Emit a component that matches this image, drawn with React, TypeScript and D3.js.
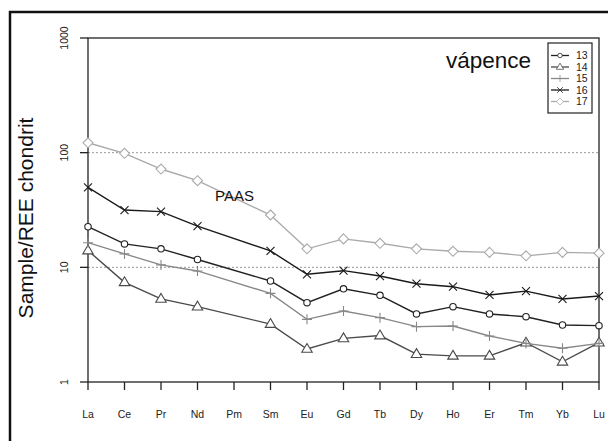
import React from "react";
import * as d3 from "d3";

const elements = ["La", "Ce", "Pr", "Nd", "Pm", "Sm", "Eu", "Gd", "Tb", "Dy", "Ho", "Er", "Tm", "Yb", "Lu"];
// null for Pm (not measured)
const s13 = [22.6, 16, 14.5, 11.7, null, 7.6, 4.92, 6.5, 5.7, 3.92, 4.54, 3.92, 3.71, 3.14, 3.1];
const s14 = [14, 7.4, 5.3, 4.54, null, 3.2, 1.94, 2.4, 2.54, 1.75, 1.69, 1.69, 2.2, 1.5, 2.2];
const s15 = [16.4, 13.1, 10.5, 9.3, null, 5.93, 3.52, 4.16, 3.64, 3.04, 3.08, 2.52, 2.17, 1.97, 2.17];
const s16 = [49.9, 31.6, 30.6, 22.9, null, 13.9, 8.7, 9.35, 8.4, 7.2, 6.78, 5.74, 6.2, 5.3, 5.62];
const s17 = [122, 98.7, 72, 57, null, 28.6, 14.5, 17.7, 16.2, 14.5, 13.8, 13.5, 12.6, 13.5, 13.3];
const seriesNames = ["13", "14", "15", "16", "17"];
const yTicks = [1, 10, 100, 1000];
const gridValues = [10, 100];

const seriesList = [
  { name: "13", values: s13, color: "#222", marker: "circle" },
  { name: "14", values: s14, color: "#4a4a4a", marker: "triangle" },
  { name: "15", values: s15, color: "#888", marker: "plus" },
  { name: "16", values: s16, color: "#1a1a1a", marker: "cross" },
  { name: "17", values: s17, color: "#aaa", marker: "diamond" },
];

function Marker({ type, x, y, color }: { type: string; x: number; y: number; color: string }) {
  const sw = 1.1;
  if (type === "circle") return <circle cx={x} cy={y} r={3.2} fill="white" stroke={color} strokeWidth={sw} />;
  if (type === "triangle") {
    const s = 5.5;
    return (
      <path
        d={`M${x},${y - s} L${x + s * 0.95},${y + s * 0.6} L${x - s * 0.95},${y + s * 0.6} Z`}
        fill="white"
        stroke={color}
        strokeWidth={sw}
      />
    );
  }
  if (type === "plus") {
    const s = 5;
    return <path d={`M${x - s},${y} H${x + s} M${x},${y - s} V${y + s}`} stroke={color} strokeWidth={sw} />;
  }
  if (type === "cross") {
    const s = 4;
    return <path d={`M${x - s},${y - s} L${x + s},${y + s} M${x - s},${y + s} L${x + s},${y - s}`} stroke={color} strokeWidth={sw} />;
  }
  const s = 5;
  return (
    <path d={`M${x},${y - s} L${x + s},${y} L${x},${y + s} L${x - s},${y} Z`} fill="white" stroke={color} strokeWidth={sw} />
  );
}

export default function App() {
  const W = 608, H = 441;
  const left = 88, right = 599, top = 38, bottom = 382;
  const x = d3.scalePoint<string>().domain(elements).range([left, right]);
  const y = d3.scaleLog().domain([1, 1000]).range([bottom, top]);
  const line = d3
    .line<[string, number]>()
    .x((d) => x(d[0]) as number)
    .y((d) => y(d[1]));
  const font = "Liberation Sans, Arial, sans-serif";

  return (
    <svg width={W} height={H} style={{ position: "absolute", left: 0, top: 0, background: "white" }} fontFamily={font}>
      <rect x={0} y={0} width={W} height={H} fill="white" />
      <rect x={10} y={12} width={700} height={600} fill="none" stroke="#111" strokeWidth={2.5} />
      {gridValues.map((g) => (
        <line key={g} x1={left} x2={right} y1={y(g)} y2={y(g)} stroke="#999" strokeWidth={1} strokeDasharray="2,2" />
      ))}
      <rect x={left} y={top} width={right - left} height={bottom - top} fill="none" stroke="#222" strokeWidth={1.3} />
      {yTicks.map((t) => (
        <g key={t}>
          <line x1={left - 8} x2={left} y1={y(t)} y2={y(t)} stroke="#222" strokeWidth={1.3} />
          <text x={68} y={y(t)} transform={`rotate(-90,68,${y(t)})`} textAnchor="middle" fontSize={10.5} fill="#222">
            {t}
          </text>
        </g>
      ))}
      {elements.map((e) => (
        <g key={e}>
          <line x1={x(e)} x2={x(e)} y1={bottom} y2={bottom + 8} stroke="#222" strokeWidth={1.3} />
          <text x={x(e)} y={418} textAnchor="middle" fontSize={10.5} fill="#222">
            {e}
          </text>
        </g>
      ))}
      <text x={33} y={218} transform="rotate(-90,33,218)" textAnchor="middle" fontSize={21} fill="#111">
        Sample/REE chondrit
      </text>
      {seriesList.map((s) => {
        const pts = elements
          .map((e, i) => [e, s.values[i]] as [string, number | null])
          .filter((p) => p[1] != null) as [string, number][];
        return (
          <g key={s.name}>
            <path d={line(pts) || ""} fill="none" stroke={s.color} strokeWidth={1.4} />
            {pts.map((p) => (
              <Marker key={p[0]} type={s.marker} x={x(p[0]) as number} y={y(p[1])} color={s.color} />
            ))}
          </g>
        );
      })}
      <text x={215} y={201} fontSize={15} fill="#111">PAAS</text>
      <text x={531} y={68} textAnchor="end" fontSize={22.5} fill="#111">vápence</text>
      <rect x={548} y={43} width={44} height={70} fill="white" stroke="#222" strokeWidth={1.2} />
      {seriesList.map((s, i) => {
        const ly = 55.5 + i * 11.5;
        return (
          <g key={"lg" + s.name}>
            <line x1={551} x2={569} y1={ly} y2={ly} stroke={s.color} strokeWidth={1.3} />
            <g transform={`translate(${560},${ly}) scale(0.7) translate(${-560},${-ly})`}>
              <Marker type={s.marker} x={560} y={ly} color={s.color} />
            </g>
            <text x={576} y={ly + 3.8} fontSize={10.5} fill="#222">
              {seriesNames[i]}
            </text>
          </g>
        );
      })}
    </svg>
  );
}
